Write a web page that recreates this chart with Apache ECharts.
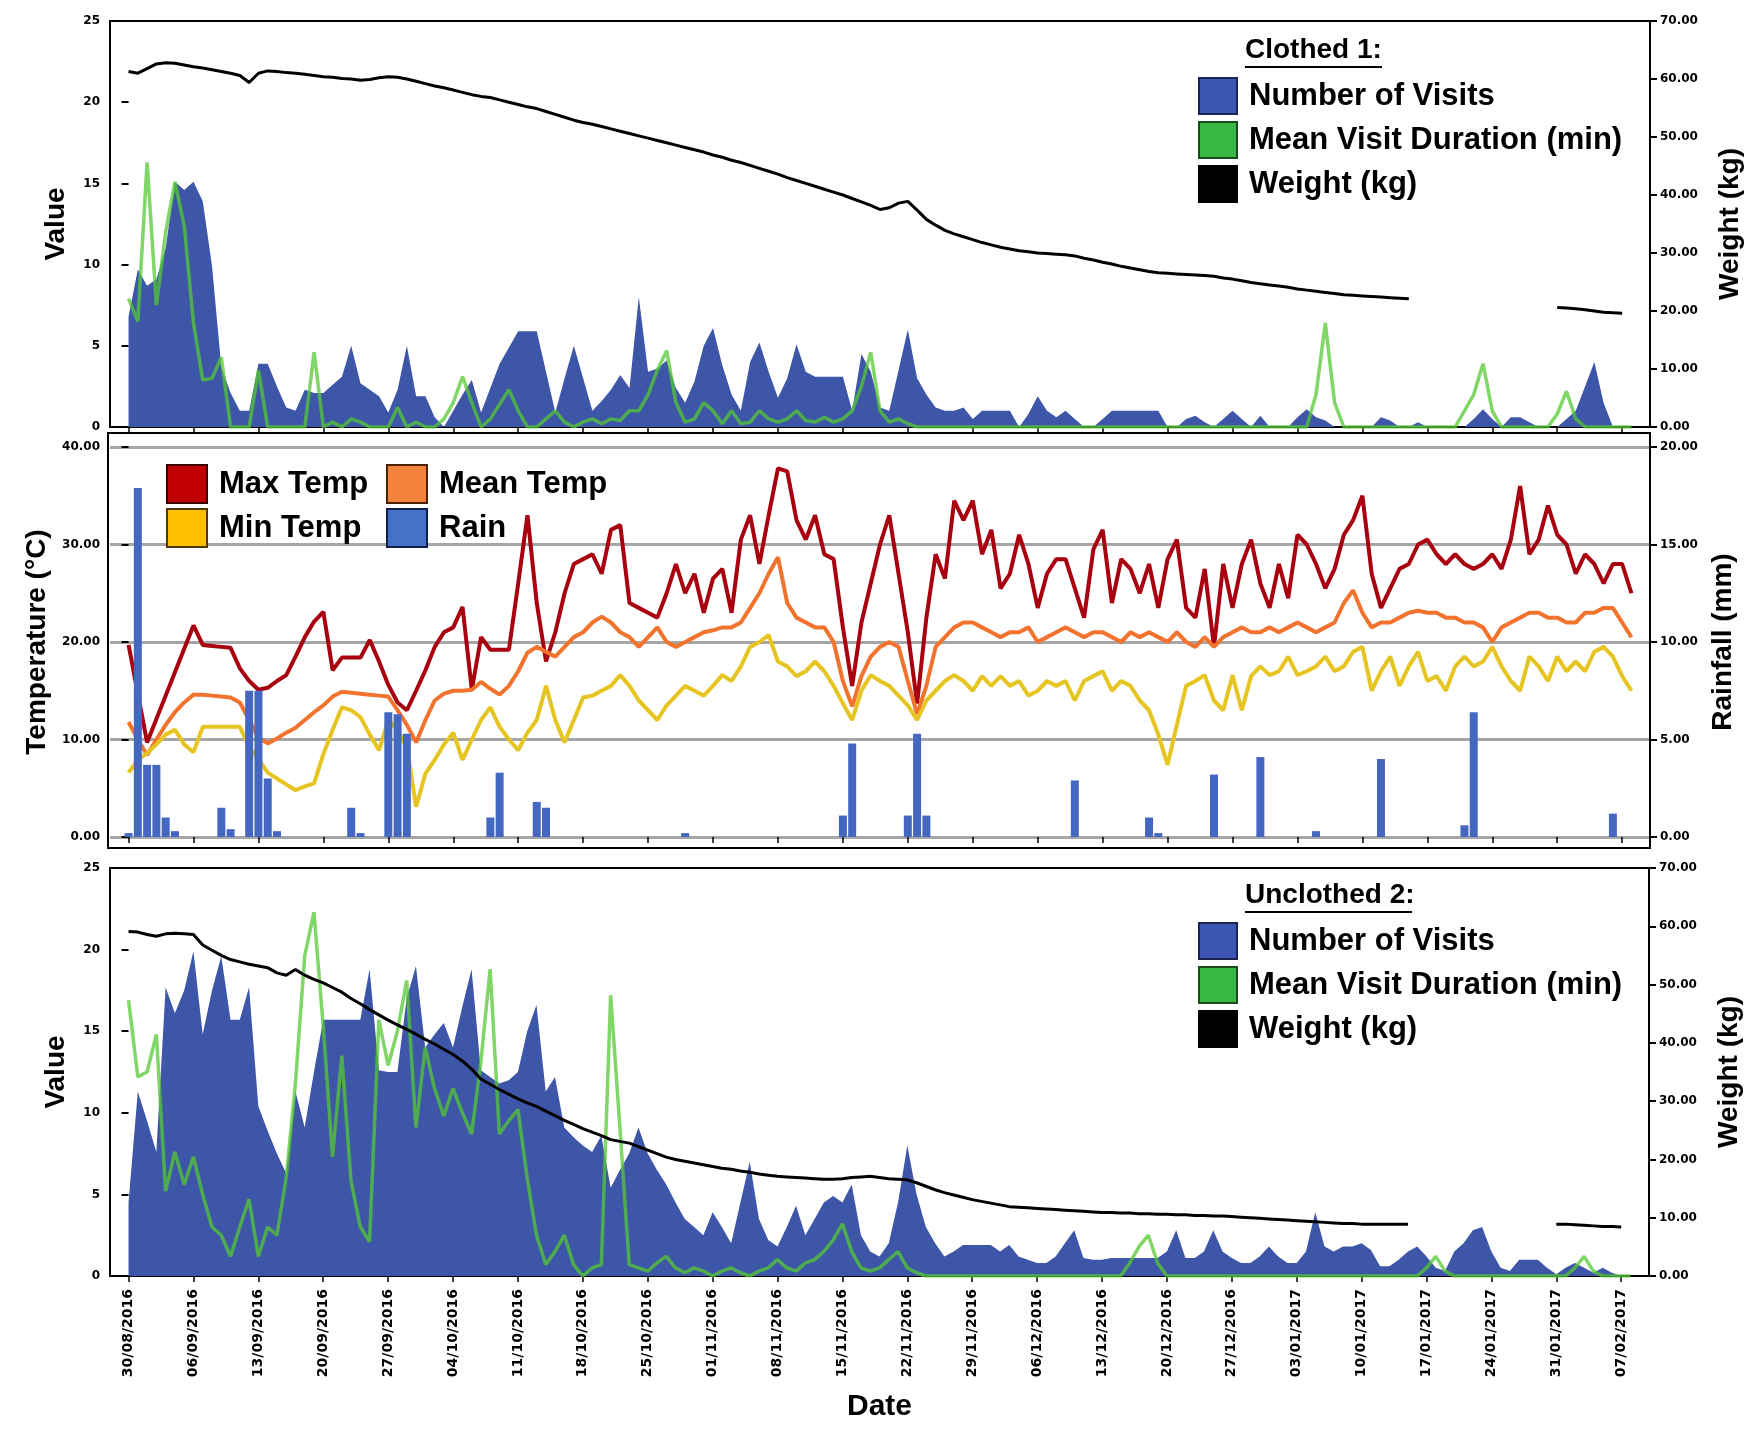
<!DOCTYPE html>
<html>
<head>
<meta charset="utf-8">
<script src="https://cdn.jsdelivr.net/npm/echarts@6/dist/echarts.min.js"></script>
<style>
html, body { margin: 0; padding: 0; background: #fff; }
#chart { width: 1764px; height: 1429px; }
</style>
</head>
<body>
<div id="chart"></div>
<script>
// Date ticks (one every 7 days, day 0 = first label)
var tickLabels = ['30/08/2016','06/09/2016','13/09/2016','20/09/2016','27/09/2016','04/10/2016',
  '11/10/2016','18/10/2016','25/10/2016','01/11/2016','08/11/2016','15/11/2016','22/11/2016',
  '29/11/2016','06/12/2016','13/12/2016','20/12/2016','27/12/2016','03/01/2017','10/01/2017',
  '17/01/2017','24/01/2017','31/01/2017','07/02/2017'];

// Clothed 1 -- daily values, day 0..162
var topVisits = [
  6.8, 9.7, 8.7, 9.1, 11.0, 15.1, 14.6, 15.1, 13.9, 9.9,
  3.7, 2.1, 1.0, 1.0, 3.9, 3.9, 2.5, 1.2, 1.0, 2.3,
  2.1, 2.1, 2.6, 3.1, 5.0, 2.7, 2.3, 1.9, 0.9, 2.3,
  5.0, 1.9, 1.9, 0.6, 0, 1.0, 2.0, 2.9, 0.9, 2.4,
  3.9, 4.9, 5.9, 5.9, 5.9, 3.4, 0.9, 3.0, 5.0, 3.0,
  1.0, 1.6, 2.3, 3.2, 2.4, 8.0, 3.4, 3.6, 4.1, 2.4,
  1.5, 2.8, 5.0, 6.1, 3.8, 2.0, 1.0, 4.0, 5.2, 3.4,
  1.8, 3.0, 5.1, 3.4, 3.1, 3.1, 3.1, 3.1, 1.0, 4.5,
  3.4, 1.2, 1.0, 3.5, 6.0, 3.0, 2.0, 1.2, 1.0, 1.0,
  1.2, 0.5, 1.0, 1.0, 1.0, 1.0, 0, 0.8, 1.9, 1.0,
  0.6, 1.0, 0.5, 0, 0, 0.5, 1.0, 1.0, 1.0, 1.0,
  1.0, 1.0, 0, 0, 0.5, 0.7, 0.3, 0, 0.5, 1.0,
  0.5, 0, 0.7, 0, 0, 0, 0.6, 1.1, 0.6, 0.4,
  0, 0, 0, 0, 0, 0.6, 0.4, 0, 0, 0.3,
  0, 0, 0, 0, 0, 0.5, 1.1, 0.5, 0, 0.6,
  0.6, 0.3, 0, 0, 0, 0.5, 1.0, 2.5, 4.0, 1.5,
  0, 0, 0
];
var topDuration = [
  7.9, 6.5, 16.3, 7.5, 12.0, 15.1, 12.4, 6.4, 2.9, 3.0,
  4.3, 0, 0, 0, 3.5, 0, 0, 0, 0, 0,
  4.6, 0, 0.3, 0, 0.5, 0.3, 0, 0, 0, 1.2,
  0, 0.3, 0, 0, 0.5, 1.5, 3.1, 1.5, 0, 0.5,
  1.4, 2.3, 1.0, 0, 0, 0.5, 1.0, 0.3, 0, 0.3,
  0.5, 0.2, 0.5, 0.4, 1.0, 1.0, 2.0, 3.5, 4.7, 1.5,
  0.3, 0.5, 1.5, 1.0, 0.2, 1.0, 0.2, 0.3, 1.0, 0.5,
  0.3, 0.5, 1.0, 0.4, 0.3, 0.6, 0.3, 0.5, 1.0, 2.5,
  4.6, 1.0, 0.3, 0.5, 0.2, 0, 0, 0, 0, 0,
  0, 0, 0, 0, 0, 0, 0, 0, 0, 0,
  0, 0, 0, 0, 0, 0, 0, 0, 0, 0,
  0, 0, 0, 0, 0, 0, 0, 0, 0, 0,
  0, 0, 0, 0, 0, 0, 0, 0, 2.0, 6.4,
  1.5, 0, 0, 0, 0, 0, 0, 0, 0, 0,
  0, 0, 0, 0, 1.0, 2.0, 3.9, 1.0, 0, 0,
  0, 0, 0, 0, 0.8, 2.2, 0.5, 0, 0, 0,
  0, 0, 0
];
var topWeight = [
  61.3, 61.0, 61.8, 62.6, 62.8, 62.7, 62.4, 62.1, 61.9, 61.6,
  61.3, 61.0, 60.6, 59.4, 61.0, 61.4, 61.3, 61.1, 61.0, 60.8,
  60.6, 60.4, 60.3, 60.1, 60.0, 59.8, 59.9, 60.2, 60.4, 60.3,
  60.0, 59.6, 59.2, 58.8, 58.5, 58.1, 57.7, 57.3, 57.0, 56.8,
  56.4, 56.0, 55.6, 55.2, 54.9, 54.4, 53.9, 53.4, 52.9, 52.5,
  52.2, 51.8, 51.4, 51.0, 50.6, 50.2, 49.8, 49.4, 49.0, 48.6,
  48.2, 47.8, 47.4, 46.9, 46.5, 46.0, 45.6, 45.1, 44.6, 44.1,
  43.6, 43.0, 42.5, 42.0, 41.5, 41.0, 40.5, 40.0, 39.4, 38.8,
  38.2, 37.5, 37.8, 38.6, 38.9, 37.4, 35.8, 34.8, 33.9, 33.3,
  32.8, 32.3, 31.8, 31.4, 31.0, 30.7, 30.4, 30.2, 30.0, 29.9,
  29.8, 29.7, 29.5, 29.1, 28.8, 28.4, 28.1, 27.7, 27.4, 27.1,
  26.8, 26.6, 26.5, 26.4, 26.3, 26.2, 26.1, 26.0, 25.7, 25.5,
  25.2, 24.9, 24.7, 24.5, 24.3, 24.1, 23.8, 23.6, 23.4, 23.2,
  23.0, 22.8, 22.7, 22.6, 22.5, 22.4, 22.3, 22.2, 22.1, null,
  null, null, null, null, null, null, null, null, null, null,
  null, null, null, null, 20.6, 20.5, 20.4, 20.2, 20.0, 19.8,
  19.7, 19.6, null
];

// Weather
var maxTemp = [
  19.7, 14.7, 9.7, 12.1, 14.5, 16.9, 19.3, 21.7, 19.7, 19.6,
  19.5, 19.4, 17.3, 16.0, 15.1, 15.3, 16.0, 16.6, 18.5, 20.5,
  22.1, 23.1, 17.1, 18.4, 18.4, 18.4, 20.2, 18.0, 15.6, 13.8,
  13.0, 15.0, 17.1, 19.5, 21.0, 21.5, 23.6, 15.1, 20.5, 19.2,
  19.2, 19.2, 26.0, 33.0, 24.0, 18.0, 21.0, 25.0, 28.0, 28.5,
  29.0, 27.0, 31.5, 32.0, 24.0, 23.5, 23.0, 22.5, 25.0, 28.0,
  25.0, 27.0, 23.0, 26.5, 27.5, 23.0, 30.5, 33.0, 28.0, 33.0,
  37.8, 37.5, 32.5, 30.5, 33.0, 29.0, 28.5, 21.5, 15.5, 22.0,
  26.0, 30.0, 33.0, 27.0, 21.0, 13.7, 22.5, 29.0, 26.5, 34.5,
  32.5, 34.5, 29.0, 31.5, 25.5, 27.0, 31.0, 28.0, 23.5, 27.0,
  28.5, 28.5, 25.5, 22.5, 29.5, 31.5, 24.0, 28.5, 27.5, 25.0,
  28.0, 23.5, 28.5, 30.5, 23.5, 22.5, 27.5, 19.5, 28.0, 23.5,
  28.0, 30.5, 26.0, 23.5, 28.0, 24.5, 31.0, 30.0, 28.0, 25.5,
  27.5, 31.0, 32.5, 35.0, 27.0, 23.5, 25.5, 27.5, 28.0, 30.0,
  30.5, 29.0, 28.0, 29.0, 28.0, 27.5, 28.0, 29.0, 27.5, 30.5,
  36.0, 29.0, 30.5, 34.0, 31.0, 30.0, 27.0, 29.0, 28.0, 26.0,
  28.0, 28.0, 25.0
];
var meanTemp = [
  11.8, 10.0, 8.4, 10.0, 11.5, 12.8, 13.8, 14.6, 14.6, 14.5,
  14.4, 14.3, 13.8, 12.0, 10.2, 9.6, 10.1, 10.7, 11.2, 12.0,
  12.8, 13.5, 14.4, 14.9, 14.8, 14.7, 14.6, 14.5, 14.4, 13.0,
  11.5, 9.7, 12.0, 14.0, 14.7, 15.0, 15.0, 15.1, 15.9, 15.2,
  14.6, 15.5, 17.0, 18.9, 19.5, 19.0, 18.5, 19.5, 20.5, 21.0,
  22.0, 22.6, 22.0, 21.0, 20.5, 19.5, 20.5, 21.5, 20.0, 19.5,
  20.0, 20.5, 21.0, 21.2, 21.5, 21.5, 22.0, 23.5, 25.0, 27.0,
  28.7, 24.0, 22.5, 22.0, 21.5, 21.5, 20.0, 16.0, 13.4, 16.5,
  18.5, 19.5, 20.0, 19.5, 16.0, 12.6, 15.5, 19.5, 20.5, 21.5,
  22.0, 22.0, 21.5, 21.0, 20.5, 21.0, 21.0, 21.5, 20.0, 20.5,
  21.0, 21.5, 21.0, 20.5, 21.0, 21.0, 20.5, 20.0, 21.0, 20.5,
  21.0, 20.5, 20.0, 21.0, 20.0, 19.5, 20.5, 19.5, 20.5, 21.0,
  21.5, 21.0, 21.0, 21.5, 21.0, 21.5, 22.0, 21.5, 21.0, 21.5,
  22.0, 24.0, 25.3, 23.0, 21.5, 22.0, 22.0, 22.5, 23.0, 23.2,
  23.0, 23.0, 22.5, 22.5, 22.0, 22.0, 21.5, 20.0, 21.5, 22.0,
  22.5, 23.0, 23.0, 22.5, 22.5, 22.0, 22.0, 23.0, 23.0, 23.5,
  23.5, 22.0, 20.5
];
var minTemp = [
  6.6, 7.9, 8.6, 9.5, 10.5, 11.0, 9.5, 8.7, 11.3, 11.3,
  11.3, 11.3, 11.3, 9.2, 8.0, 6.6, 6.0, 5.4, 4.8, 5.2,
  5.5, 8.5, 11.0, 13.3, 13.0, 12.3, 10.5, 8.9, 12.0, 11.0,
  9.2, 3.1, 6.5, 7.9, 9.5, 10.7, 7.9, 10.0, 12.0, 13.3,
  11.3, 10.0, 8.9, 10.7, 12.0, 15.5, 12.0, 9.7, 12.0, 14.3,
  14.5, 15.0, 15.5, 16.6, 15.5, 14.0, 13.0, 12.0, 13.5, 14.5,
  15.5, 15.0, 14.5, 15.5, 16.6, 16.0, 17.5, 19.5, 20.0, 20.7,
  18.0, 17.5, 16.5, 17.0, 18.0, 17.0, 15.5, 13.7, 12.0, 15.0,
  16.6, 16.0, 15.5, 14.5, 13.5, 12.0, 14.0, 15.0, 16.0, 16.6,
  16.0, 15.0, 16.5, 15.5, 16.5, 15.5, 16.0, 14.5, 15.0, 16.0,
  15.5, 16.0, 14.0, 16.0, 16.5, 17.0, 15.0, 16.0, 15.5, 14.0,
  13.0, 10.5, 7.4, 11.5, 15.5, 16.0, 16.6, 14.0, 13.0, 16.6,
  13.0, 16.5, 17.5, 16.6, 17.0, 18.5, 16.6, 17.0, 17.5, 18.5,
  17.0, 17.5, 19.0, 19.5, 15.0, 17.0, 18.5, 15.5, 17.5, 19.0,
  16.0, 16.5, 15.0, 17.5, 18.5, 17.5, 18.0, 19.5, 17.5, 16.0,
  15.0, 18.5, 17.5, 16.0, 18.5, 17.0, 18.0, 17.0, 19.0, 19.5,
  18.5, 16.5, 15.0
];
var rain = [
  0.2, 17.9, 3.7, 3.7, 1.0, 0.3, 0, 0, 0, 0,
  1.5, 0.4, 0, 7.5, 7.5, 3.0, 0.3, 0, 0, 0,
  0, 0, 0, 0, 1.5, 0.2, 0, 0, 6.4, 6.3,
  5.3, 0, 0, 0, 0, 0, 0, 0, 0, 1.0,
  3.3, 0, 0, 0, 1.8, 1.5, 0, 0, 0, 0,
  0, 0, 0, 0, 0, 0, 0, 0, 0, 0,
  0.2, 0, 0, 0, 0, 0, 0, 0, 0, 0,
  0, 0, 0, 0, 0, 0, 0, 1.1, 4.8, 0,
  0, 0, 0, 0, 1.1, 5.3, 1.1, 0, 0, 0,
  0, 0, 0, 0, 0, 0, 0, 0, 0, 0,
  0, 0, 2.9, 0, 0, 0, 0, 0, 0, 0,
  1.0, 0.2, 0, 0, 0, 0, 0, 3.2, 0, 0,
  0, 0, 4.1, 0, 0, 0, 0, 0, 0.3, 0,
  0, 0, 0, 0, 0, 4.0, 0, 0, 0, 0,
  0, 0, 0, 0, 0.6, 6.4, 0, 0, 0, 0,
  0, 0, 0, 0, 0, 0, 0, 0, 0, 0,
  1.2, 0, 0
];

// Unclothed 2
var botVisits = [
  4.5, 11.3, 9.5, 7.6, 17.7, 16.1, 17.5, 19.9, 14.8, 17.5,
  19.6, 15.7, 15.7, 17.7, 10.4, 8.9, 7.5, 6.3, 11.3, 9.1,
  12.5, 15.7, 15.7, 15.7, 15.7, 15.7, 18.8, 12.6, 12.5, 12.5,
  17.0, 19.0, 14.0, 14.8, 15.5, 14.0, 16.5, 18.8, 12.6, 12.2,
  11.8, 12.0, 12.5, 15.0, 16.6, 11.3, 12.2, 9.1, 8.5, 8.0,
  7.6, 8.6, 5.4, 6.5, 7.5, 9.1, 7.5, 6.5, 5.6, 4.5,
  3.5, 3.0, 2.5, 3.9, 3.0, 2.0, 4.5, 7.0, 3.5, 2.2,
  1.8, 3.0, 4.3, 2.5, 3.5, 4.5, 4.9, 4.5, 5.6, 2.5,
  1.5, 1.2, 2.0, 4.5, 8.0, 5.0, 3.0, 2.0, 1.2, 1.5,
  1.9, 1.9, 1.9, 1.9, 1.5, 1.9, 1.2, 1.0, 0.8, 0.8,
  1.2, 2.0, 2.8, 1.1, 1.0, 1.0, 1.1, 1.1, 1.1, 1.1,
  1.1, 1.1, 1.5, 2.8, 1.1, 1.1, 1.5, 2.8, 1.5, 1.1,
  0.8, 0.8, 1.2, 1.8, 1.2, 0.8, 0.8, 1.5, 3.9, 1.8,
  1.5, 1.8, 1.8, 2.0, 1.6, 0.6, 0.6, 1.0, 1.5, 1.8,
  1.2, 0.5, 0.3, 1.5, 2.0, 2.8, 3.0, 1.5, 0.5, 0.3,
  1.0, 1.0, 1.0, 0.5, 0.1, 0.5, 0.8, 0.5, 0.2, 0.5,
  0.2, 0, 0
];
var botDuration = [
  16.9, 12.2, 12.5, 14.8, 5.2, 7.6, 5.6, 7.3, 5.0, 3.0,
  2.5, 1.2, 3.0, 4.7, 1.2, 3.0, 2.5, 6.0, 11.8, 19.6,
  22.3, 15.3, 7.3, 13.5, 5.8, 3.0, 2.1, 15.7, 12.9, 15.0,
  18.1, 9.1, 14.0, 11.5, 9.8, 11.5, 10.0, 8.7, 13.1, 18.8,
  8.7, 9.5, 10.2, 6.0, 2.5, 0.7, 1.5, 2.5, 0.7, 0,
  0.5, 0.7, 17.2, 9.1, 0.7, 0.5, 0.3, 0.8, 1.2, 0.5,
  0.2, 0.5, 0.3, 0, 0.3, 0.5, 0.2, 0, 0.3, 0.5,
  1.0, 0.5, 0.3, 0.8, 1.0, 1.5, 2.2, 3.2, 1.5, 0.5,
  0.3, 0.5, 1.0, 1.5, 0.5, 0.2, 0, 0, 0, 0,
  0, 0, 0, 0, 0, 0, 0, 0, 0, 0,
  0, 0, 0, 0, 0, 0, 0, 0, 0.8, 1.8,
  2.5, 0.8, 0, 0, 0, 0, 0, 0, 0, 0,
  0, 0, 0, 0, 0, 0, 0, 0, 0, 0,
  0, 0, 0, 0, 0, 0, 0, 0, 0, 0,
  0.5, 1.2, 0.3, 0, 0, 0, 0, 0, 0, 0,
  0, 0, 0, 0, 0, 0, 0.5, 1.2, 0.3, 0,
  0, 0, 0
];
var botWeight = [
  59.1, 59.0, 58.6, 58.3, 58.7, 58.8, 58.7, 58.6, 56.8, 55.9,
  55.0, 54.3, 53.9, 53.5, 53.2, 52.9, 52.0, 51.6, 52.6, 51.6,
  50.9, 50.3, 49.5, 48.7, 47.6, 46.7, 45.7, 44.8, 43.9, 43.1,
  42.3, 41.5, 40.6, 39.8, 38.9, 38.0, 36.9, 35.5, 33.8, 32.9,
  32.0, 31.2, 30.4, 29.7, 29.1, 28.3, 27.5, 26.7, 26.0, 25.3,
  24.7, 24.1, 23.4, 23.1, 22.8, 22.2, 21.6, 21.0, 20.4, 20.0,
  19.7, 19.4, 19.1, 18.8, 18.5, 18.3, 18.0, 17.8, 17.5, 17.3,
  17.1, 17.0, 16.9, 16.8, 16.7, 16.6, 16.6, 16.7, 16.9, 17.0,
  17.1, 16.9, 16.7, 16.6, 16.5, 16.0, 15.4, 14.8, 14.3, 13.9,
  13.5, 13.1, 12.8, 12.5, 12.2, 11.9, 11.8, 11.7, 11.6, 11.5,
  11.4, 11.3, 11.2, 11.1, 11.0, 10.9, 10.9, 10.8, 10.8, 10.7,
  10.7, 10.6, 10.6, 10.5, 10.5, 10.4, 10.4, 10.3, 10.3, 10.2,
  10.1, 10.0, 9.9, 9.8, 9.7, 9.6, 9.5, 9.4, 9.3, 9.2,
  9.1, 9.0, 9.0, 8.9, 8.9, 8.9, 8.9, 8.9, 8.9, null,
  null, null, null, null, null, null, null, null, null, null,
  null, null, null, null, 8.9, 8.9, 8.8, 8.7, 8.6, 8.5,
  8.5, 8.4, null
];

var FONT = 'Liberation Sans';
var TICKFONT = 'DejaVu Sans';
var tickDays = tickLabels.map(function (l, i) { return i * 7; });

function pairs(arr) {
  return arr.map(function (v, i) { return [i, v]; });
}

function dayAxis(gridIndex, showLabels, offset) {
  var ax = {
    type: 'value', gridIndex: gridIndex, min: -2, max: 164,
    offset: offset || 0,
    axisLine: { show: false },
    axisTick: { show: true, length: 6, customValues: tickDays, lineStyle: { color: '#000', width: 1.5 } },
    axisLabel: {
      show: showLabels, customValues: tickDays, rotate: 90, margin: 13,
      color: '#000', fontWeight: 'bold', fontSize: 14, fontFamily: TICKFONT,
      formatter: function (v) { return tickLabels[Math.round(v / 7)]; }
    },
    splitLine: { show: false }
  };
  if (showLabels) {
    ax.name = 'Date';
    ax.nameLocation = 'middle';
    ax.nameGap = 116;
    ax.nameTextStyle = { color: '#000', fontWeight: 'bold', fontSize: 30, fontFamily: FONT };
  }
  return ax;
}

function valAxis(gridIndex, pos, max, step, name, gap, fmt, split) {
  return {
    type: 'value', gridIndex: gridIndex, position: pos, min: 0, max: max, interval: step,
    axisLine: { show: false },
    axisTick: { show: true, length: 7, lineStyle: { color: '#000', width: 2 } },
    axisLabel: {
      margin: 10, color: '#000', fontWeight: 'bold', fontSize: 12, fontFamily: TICKFONT,
      formatter: fmt ? function (v) { return v.toFixed(2); } : null
    },
    splitLine: split ? { show: true, lineStyle: { color: '#a6a6a6', width: 3 } } : { show: false },
    name: name, nameLocation: 'middle', nameGap: gap,
    nameTextStyle: { color: '#000', fontWeight: 'bold', fontSize: 28, fontFamily: FONT }
  };
}

var legendText = { color: '#000', fontWeight: 'bold', fontSize: 31, fontFamily: FONT, padding: [0, 0, 0, 7] };

function visitsLegend(top) {
  return {
    left: 1193, top: top, orient: 'vertical', icon: 'rect', selectedMode: false,
    itemWidth: 38, itemHeight: 36, itemGap: 6, textStyle: legendText,
    data: [
      { name: 'Number of Visits', itemStyle: { color: '#3d55b3', borderColor: '#1b2450', borderWidth: 2 } },
      { name: 'Mean Visit Duration (min)', itemStyle: { color: '#37b744', borderColor: '#1b4a1b', borderWidth: 2 } },
      { name: 'Weight (kg)', itemStyle: { color: '#000', borderColor: '#000', borderWidth: 2 } }
    ]
  };
}

function panelSeries(xi, yl, yr, visits, duration, weight) {
  return [
    { name: 'Number of Visits', type: 'line', xAxisIndex: xi, yAxisIndex: yl, data: pairs(visits),
      symbol: 'none', lineStyle: { width: 0 }, itemStyle: { color: '#3e56a8' },
      areaStyle: { color: '#3e56a8', opacity: 1 }, z: 2 },
    { name: 'Mean Visit Duration (min)', type: 'line', xAxisIndex: xi, yAxisIndex: yl, data: pairs(duration),
      symbol: 'none', lineStyle: { color: '#56c833', width: 3.5, opacity: 0.75 }, itemStyle: { color: '#56c833' }, z: 3 },
    { name: 'Weight (kg)', type: 'line', xAxisIndex: xi, yAxisIndex: yr, data: pairs(weight),
      symbol: 'none', connectNulls: false, lineStyle: { color: '#000', width: 3 }, itemStyle: { color: '#000' }, z: 4 }
  ];
}

var chart = echarts.init(document.getElementById('chart'), null, { renderer: 'canvas' });

var option = {
  animation: false,
  backgroundColor: '#fff',
  grid: [
    { left: 110, right: 114, top: 21, height: 406, show: true, borderColor: '#000', borderWidth: 2 },
    { left: 110, right: 114, top: 447, height: 390 },
    { left: 110, right: 115, top: 868, height: 408, show: true, borderColor: '#000', borderWidth: 2 }
  ],
  xAxis: [ dayAxis(0, false), dayAxis(1, false, 11), dayAxis(2, true) ],
  yAxis: [
    valAxis(0, 'left', 25, 5, 'Value', 40, false, false),
    valAxis(0, 'right', 70, 10, 'Weight (kg)', 66, true, false),
    valAxis(1, 'left', 40, 10, 'Temperature (°C)', 54, true, true),
    valAxis(1, 'right', 20, 5, 'Rainfall (mm)', 54, true, false),
    valAxis(2, 'left', 25, 5, 'Value', 40, false, false),
    valAxis(2, 'right', 70, 10, 'Weight (kg)', 66, true, false)
  ],
  legend: [
    visitsLegend(72),
    {
      left: 161, top: 459, orient: 'vertical', icon: 'rect', selectedMode: false,
      itemWidth: 40, itemHeight: 38, itemGap: 4, textStyle: legendText,
      data: [
        { name: 'Max Temp', itemStyle: { color: '#c00000', borderColor: '#3a0000', borderWidth: 2 } },
        { name: 'Min Temp', itemStyle: { color: '#ffc000', borderColor: '#4a3a00', borderWidth: 2 } }
      ]
    },
    {
      left: 381, top: 459, orient: 'vertical', icon: 'rect', selectedMode: false,
      itemWidth: 40, itemHeight: 38, itemGap: 4, textStyle: legendText,
      data: [
        { name: 'Mean Temp', itemStyle: { color: '#f4813c', borderColor: '#4a2200', borderWidth: 2 } },
        { name: 'Rain', itemStyle: { color: '#4472c4', borderColor: '#10204a', borderWidth: 2 } }
      ]
    },
    visitsLegend(917)
  ],
  graphic: [
    { type: 'rect', shape: { x: 108, y: 433, width: 1542, height: 415 },
      style: { fill: 'transparent', stroke: '#000', lineWidth: 2 }, z: 100 },
    { type: 'text', left: 1245, top: 36, style: { text: 'Clothed 1:', fill: '#000', font: 'bold 28px "Liberation Sans"' }, z: 100 },
    { type: 'line', shape: { x1: 1245, y1: 67, x2: 1382, y2: 67 }, style: { stroke: '#000', lineWidth: 2 }, z: 100 },
    { type: 'text', left: 1245, top: 881, style: { text: 'Unclothed 2:', fill: '#000', font: 'bold 28px "Liberation Sans"' }, z: 100 },
    { type: 'line', shape: { x1: 1245, y1: 912, x2: 1412, y2: 912 }, style: { stroke: '#000', lineWidth: 2 }, z: 100 }
  ],
  series: [].concat(
    panelSeries(0, 0, 1, topVisits, topDuration, topWeight),
    [
      { name: 'Max Temp', type: 'line', xAxisIndex: 1, yAxisIndex: 2, data: pairs(maxTemp), symbol: 'none',
        lineStyle: { color: '#a8000e', width: 4 }, itemStyle: { color: '#a8000e' }, z: 2 },
      { name: 'Mean Temp', type: 'line', xAxisIndex: 1, yAxisIndex: 2, data: pairs(meanTemp), symbol: 'none',
        lineStyle: { color: '#f2732e', width: 4 }, itemStyle: { color: '#f2732e' }, z: 2 },
      { name: 'Min Temp', type: 'line', xAxisIndex: 1, yAxisIndex: 2, data: pairs(minTemp), symbol: 'none',
        lineStyle: { color: '#e6c421', width: 4 }, itemStyle: { color: '#e6c421' }, z: 2 },
      { name: 'Rain', type: 'bar', xAxisIndex: 1, yAxisIndex: 3, data: pairs(rain), barWidth: 8,
        itemStyle: { color: '#4468c2' }, z: 3 }
    ],
    panelSeries(2, 4, 5, botVisits, botDuration, botWeight)
  )
};

chart.setOption(option);
</script>
</body>
</html>
